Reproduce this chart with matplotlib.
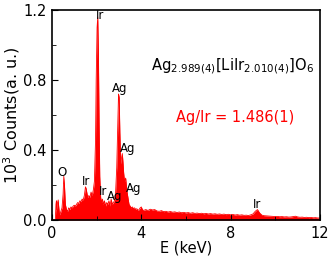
import numpy as np
import matplotlib
matplotlib.use("Agg")
import matplotlib.pyplot as plt
from matplotlib.ticker import MultipleLocator

# EDX spectrum (energy in keV, counts in 10^3 a.u.)
energy_low = [0.0, 0.15, 0.18, 0.2, 0.22, 0.25, 0.28, 0.3, 0.33, 0.36, 0.4, 0.45,
              0.5, 0.53, 0.56, 0.6, 0.65, 0.7, 0.75, 0.8, 0.85, 0.9, 0.95, 1.0,
              1.05, 1.1, 1.15, 1.2, 1.25, 1.3, 1.35, 1.4, 1.45, 1.5, 1.53, 1.57,
              1.6, 1.65, 1.7, 1.75, 1.8, 1.85, 1.9, 1.95, 1.98, 2.02, 2.05, 2.08,
              2.11, 2.14, 2.18, 2.22, 2.26, 2.3, 2.35, 2.4, 2.45, 2.5, 2.55, 2.6,
              2.65, 2.7, 2.75, 2.8, 2.85, 2.9, 2.95, 2.98, 3.01, 3.04, 3.08, 3.12,
              3.15, 3.18, 3.21, 3.25, 3.3, 3.35, 3.4, 3.45, 3.5, 3.55, 3.6, 3.65,
              3.7, 3.75, 3.8, 3.85, 3.9, 3.95, 4.0, 4.05, 4.1, 4.2]
counts_low = [0.0, 0.0, 0.09, 0.11, 0.06, 0.10, 0.115, 0.08, 0.04, 0.03, 0.05, 0.07,
              0.15, 0.25, 0.20, 0.09, 0.06, 0.05, 0.07, 0.06, 0.075, 0.07, 0.08, 0.085,
              0.08, 0.09, 0.10, 0.095, 0.11, 0.105, 0.12, 0.115, 0.14, 0.19, 0.18, 0.15,
              0.13, 0.14, 0.13, 0.16, 0.14, 0.17, 0.22, 0.45, 0.80, 1.10, 1.16, 0.95,
              0.55, 0.25, 0.13, 0.10, 0.12, 0.09, 0.11, 0.08, 0.10, 0.09, 0.11, 0.08,
              0.12, 0.09, 0.10, 0.11, 0.16, 0.30, 0.55, 0.72, 0.70, 0.50, 0.32, 0.36,
              0.38, 0.33, 0.27, 0.22, 0.24, 0.17, 0.13, 0.09, 0.08, 0.07, 0.075, 0.065,
              0.07, 0.06, 0.065, 0.055, 0.06, 0.07, 0.075, 0.06, 0.055, 0.06]
energy_tail = [4.3, 4.4, 4.5, 4.6, 4.7, 4.8, 4.9,
               5.0, 5.1, 5.2, 5.3, 5.4, 5.5, 5.6, 5.7, 5.8, 5.9,
               6.0, 6.1, 6.2, 6.3, 6.4, 6.5, 6.6, 6.7, 6.8, 6.9,
               7.0, 7.1, 7.2, 7.3, 7.4, 7.5, 7.6, 7.7, 7.8, 7.9,
               8.0, 8.1, 8.2, 8.3, 8.4, 8.5, 8.6, 8.7, 8.8, 8.9,
               9.0, 9.1, 9.2, 9.3, 9.4, 9.5, 9.6, 9.7, 9.8, 9.9,
               10.0, 10.1, 10.2, 10.3, 10.4, 10.5, 10.6, 10.7, 10.8, 10.9,
               11.0, 11.1, 11.2, 11.3, 11.4, 11.5, 11.6, 11.7, 11.8, 11.9, 12.0]
counts_tail = [0.055, 0.062, 0.058, 0.060, 0.052, 0.050, 0.054,
               0.048, 0.050, 0.046, 0.049, 0.045, 0.047, 0.043, 0.046, 0.042, 0.044,
               0.041, 0.043, 0.039, 0.042, 0.038, 0.040, 0.037, 0.039, 0.036, 0.038,
               0.035, 0.037, 0.034, 0.036, 0.033, 0.035, 0.032, 0.034, 0.031, 0.033,
               0.030, 0.032, 0.029, 0.031, 0.028, 0.030, 0.027, 0.028, 0.026, 0.030,
               0.035, 0.050, 0.060, 0.040, 0.028, 0.025, 0.024, 0.023, 0.022, 0.021,
               0.020, 0.021, 0.019, 0.020, 0.018, 0.019, 0.017, 0.018, 0.020, 0.022,
               0.018, 0.016, 0.017, 0.015, 0.016, 0.014, 0.015, 0.013, 0.014, 0.012, 0.012]

# peak labels: (text, energy, height)
peak_labels = ["Ir", "Ag", "Ag", "Ag", "O", "Ir", "Ir", "Ag", "Ir"]
peak_E = [2.15, 3.05, 3.4, 3.64, 0.45, 1.52, 2.27, 2.81, 9.18]
peak_y = [1.171, 0.754, 0.406, 0.181, 0.274, 0.223, 0.162, 0.137, 0.091]

E = np.array(energy_low + energy_tail)
C = np.array(counts_low + counts_tail)

fig = plt.figure(figsize=(3.33, 2.62), dpi=100)
ax = fig.add_axes([0.156, 0.160, 0.805, 0.802])
ax.fill_between(E, C, 0, color="red", lw=0)
ax.plot(E, C, color="red", lw=0.6)

for t, x, y in zip(peak_labels, peak_E, peak_y):
    ax.text(x, y, t, fontsize=8.5, ha="center", va="center", color="black")

ax.text(0.672, 0.733, r"Ag$_{2.989(4)}$[LiIr$_{2.010(4)}$]O$_6$", transform=ax.transAxes,
        fontsize=10.6, ha="center", va="center")
ax.text(0.685, 0.486, "Ag/Ir = 1.486(1)", transform=ax.transAxes,
        fontsize=10.5, ha="center", va="center", color="red")

ax.set_xlim(0, 12)
ax.set_ylim(0, 1.2)
ax.xaxis.set_major_locator(MultipleLocator(4))
ax.xaxis.set_minor_locator(MultipleLocator(2))
ax.yaxis.set_major_locator(MultipleLocator(0.4))
ax.yaxis.set_minor_locator(MultipleLocator(0.2))
ax.tick_params(which="both", direction="in", labelsize=10.5, pad=4)
ax.tick_params(which="major", length=4)
ax.tick_params(which="minor", length=3)
for s in ax.spines.values():
    s.set_linewidth(1.2)
ax.set_xlabel("E (keV)", fontsize=10.5, labelpad=0)
ax.set_ylabel(r"10$^3$ Counts(a. u.)", fontsize=11.5, labelpad=1)

fig.savefig("out.png", dpi=100)
